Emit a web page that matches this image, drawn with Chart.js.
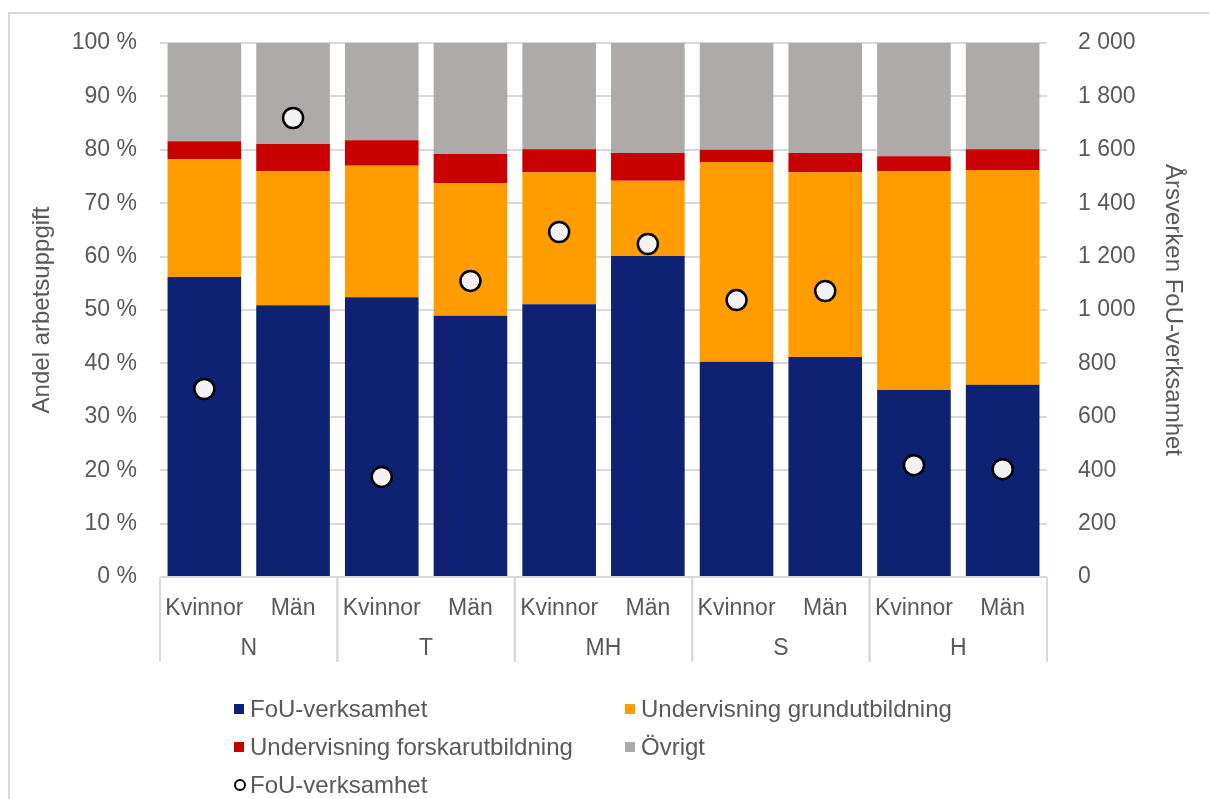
<!DOCTYPE html>
<html lang="sv">
<head>
<meta charset="utf-8">
<title>Andel arbetsuppgift</title>
<script src="https://cdn.jsdelivr.net/npm/chart.js@4.4.1/dist/chart.umd.min.js"></script>
<style>
  html, body { margin: 0; padding: 0; background: #fff; }
  body { width: 1209px; height: 799px; position: relative; overflow: hidden; }
  #frame {
    position: absolute; left: 8px; top: 12px; width: 1400px; height: 1000px;
    border: 2px solid #d9d9d9; box-sizing: border-box;
  }
  #chart { position: absolute; left: 0; top: 0; }
  #legend {
    position: absolute; left: 234px; top: 690px;
    display: grid; grid-template-columns: 391px 391px; row-gap: 0;
    font-family: "Liberation Sans", Arial, sans-serif; font-size: 24px; color: #595959;
  }
  .item { display: flex; align-items: center; height: 38px; white-space: nowrap; }
  .sw { width: 10px; height: 10px; margin-right: 6px; flex: none; }
  .ring { width: 8px; height: 8px; border: 2px solid #000; border-radius: 50%; background: #fff; margin-right: 4px; flex: none; }
</style>
</head>
<body>
<div id="frame"></div>
<canvas id="chart" width="1209" height="799"></canvas>
<div id="legend"></div>
<script>
// Kategorier
const labels = ['Kvinnor', 'Män', 'Kvinnor', 'Män', 'Kvinnor', 'Män', 'Kvinnor', 'Män', 'Kvinnor', 'Män'];
const groups = ['N', 'T', 'MH', 'S', 'H'];

// Andel arbetsuppgift (%)
const fou = [56.2, 50.9, 52.4, 48.9, 51.1, 60.1, 40.3, 41.2, 35.0, 36.0];
const grund = [22.1, 25.1, 24.6, 24.9, 24.7, 14.1, 37.4, 34.6, 41.0, 40.2];
const forskar = [3.3, 5.1, 4.8, 5.4, 4.3, 5.2, 2.3, 3.6, 2.8, 3.9];
const ovrigt = [18.4, 18.9, 18.2, 20.8, 19.9, 20.6, 20.0, 20.6, 21.2, 19.9];

// Årsverken FoU-verksamhet
const arsverken = [704, 1719, 375, 1109, 1292, 1247, 1037, 1071, 419, 404];

const FONT = '"Liberation Sans", Arial, sans-serif';
const TEXT = '#595959';
const GRID = '#d9d9d9';

const barSets = [
  { label: 'FoU-verksamhet', data: fou, color: '#0e2172' },
  { label: 'Undervisning grundutbildning', data: grund, color: '#ff9c00' },
  { label: 'Undervisning forskarutbildning', data: forskar, color: '#c80000' },
  { label: 'Övrigt', data: ovrigt, color: '#aeaaaa' },
];

function spaced(v) {
  return String(v).replace(/\B(?=(\d{3})+(?!\d))/g, ' ');
}

// Grupprubriker och avdelare under x-axeln
const groupAxis = {
  id: 'groupAxis',
  afterDraw(chart) {
    const x = chart.scales.x;
    const ctx = chart.ctx;
    const half = (x.getPixelForTick(1) - x.getPixelForTick(0)) / 2;
    ctx.save();
    ctx.strokeStyle = GRID;
    ctx.lineWidth = 2;
    ctx.fillStyle = TEXT;
    ctx.font = '23px ' + FONT;
    ctx.textAlign = 'center';
    ctx.textBaseline = 'middle';
    groups.forEach((g, i) => {
      const left = x.getPixelForTick(i * 2) - half;
      const right = x.getPixelForTick(i * 2 + 1) + half;
      [left, right].forEach(px => {
        ctx.beginPath();
        ctx.moveTo(px, x.top);
        ctx.lineTo(px, x.top + 85);
        ctx.stroke();
      });
      ctx.fillText(g, (left + right) / 2, x.top + 72);
    });
    ctx.restore();
  }
};

const datasets = [
  {
    type: 'line',
    label: 'FoU-verksamhet',
    data: arsverken,
    yAxisID: 'y1',
    showLine: false,
    pointRadius: 10,
    pointHoverRadius: 10,
    pointBackgroundColor: '#f2f2f2',
    pointBorderColor: '#000',
    pointBorderWidth: 2.5,
    order: 0,
  },
  ...barSets.map(s => ({
    type: 'bar',
    label: s.label,
    data: s.data,
    backgroundColor: s.color,
    yAxisID: 'y',
    stack: 'a',
    barPercentage: 0.83,
    categoryPercentage: 1,
    order: 1,
  })),
];

new Chart(document.getElementById('chart'), {
  data: { labels, datasets },
  options: {
    responsive: false,
    animation: false,
    layout: { padding: { left: 28, right: 22, top: 43, bottom: 136 } },
    plugins: { legend: { display: false }, tooltip: { enabled: false } },
    scales: {
      x: {
        stacked: true,
        grid: { display: false },
        border: { display: false },
        ticks: { color: TEXT, font: { family: FONT, size: 23 }, padding: 10, maxRotation: 0, autoSkip: false },
        afterFit: s => { s.height = 86; },
      },
      y: {
        position: 'left',
        stacked: true,
        min: 0, max: 100,
        grid: { color: GRID, lineWidth: 2, drawTicks: false },
        border: { display: false },
        ticks: { stepSize: 10, color: TEXT, font: { family: FONT, size: 23 }, padding: 23, callback: v => v + ' %' },
        title: { display: true, text: 'Andel arbetsuppgift', color: TEXT, font: { family: FONT, size: 24 }, padding: 0 },
        afterFit: s => { s.width = 132; },
      },
      y1: {
        position: 'right',
        min: 0, max: 2000,
        grid: { display: false },
        border: { display: false },
        ticks: { stepSize: 200, color: TEXT, font: { family: FONT, size: 23 }, padding: 23, callback: v => spaced(v) },
        title: { display: true, text: 'Årsverken FoU-verksamhet', color: TEXT, font: { family: FONT, size: 24 }, padding: 0 },
        afterFit: s => { s.width = 140; },
      },
    },
  },
  plugins: [groupAxis],
});

// Förklaring
const legend = document.getElementById('legend');
barSets.forEach(s => {
  const el = document.createElement('div');
  el.className = 'item';
  el.innerHTML = '<span class="sw" style="background:' + s.color + '"></span>' + s.label;
  legend.appendChild(el);
});
const pt = document.createElement('div');
pt.className = 'item';
pt.innerHTML = '<span class="ring"></span>' + datasets[0].label;
legend.appendChild(pt);
</script>
</body>
</html>
